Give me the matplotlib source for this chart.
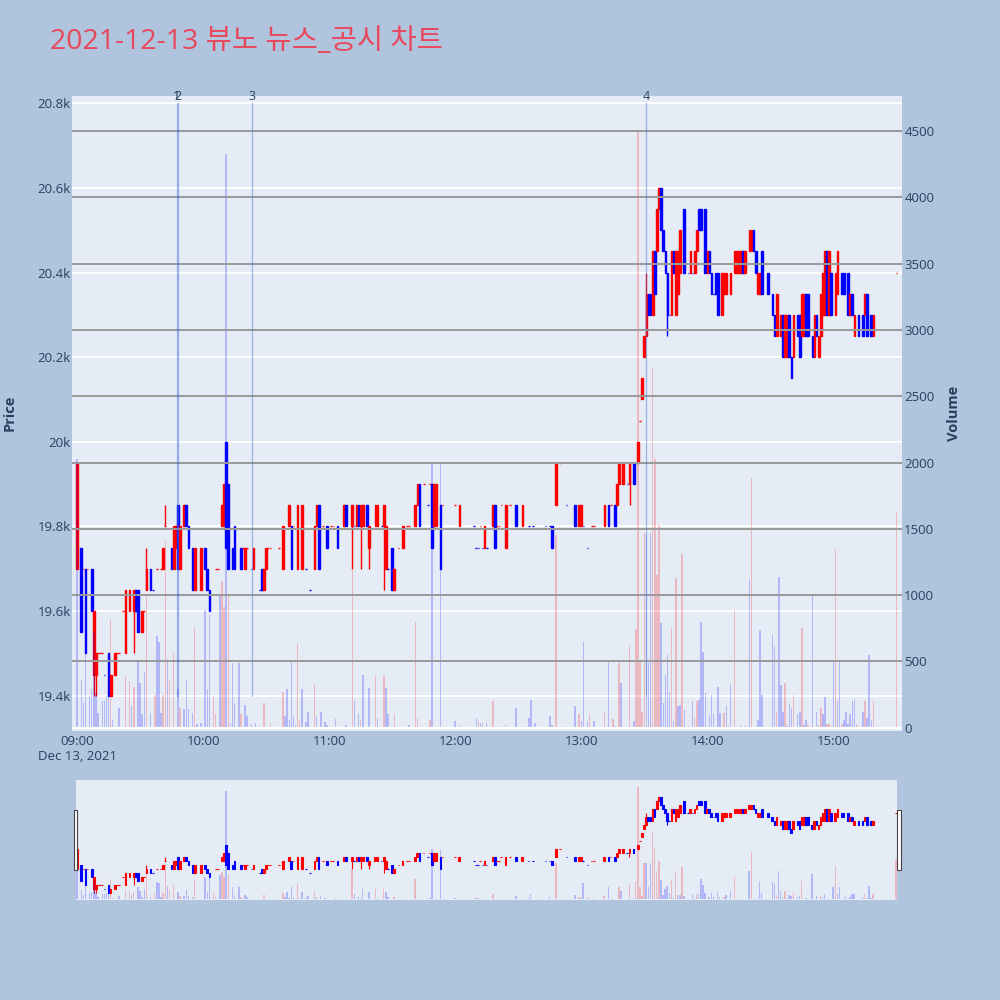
import matplotlib
matplotlib.use("Agg")
import matplotlib.pyplot as plt
from matplotlib.patches import Rectangle

plt.rcParams['font.family'] = ['Open Sans', 'Noto Sans CJK KR', 'DejaVu Sans']

TITLE = "2021-12-13 뷰노 뉴스_공시 차트"

# one candle per traded minute (minutes after 09:00), open and close in KRW
candle_min = [
    0, 2, 3, 4, 5, 7, 8, 9, 10, 11,
    12, 13, 15, 16, 18, 19, 20, 22, 23, 25,
    27, 28, 29, 31, 32, 33, 35, 36, 38, 40,
    41, 42, 45, 46, 47, 48, 49, 51, 52, 53,
    55, 56, 59, 61, 62, 63, 66, 67, 69, 70,
    71, 72, 74, 75, 78, 79, 80, 81, 83, 84,
    87, 88, 89, 90, 91, 92, 96, 98, 101, 102,
    103, 105, 107, 109, 111, 113, 114, 115, 117, 119,
    121, 122, 124, 127, 128, 131, 132, 133, 134, 135,
    136, 138, 139, 142, 143, 145, 146, 147, 148, 150,
    151, 153, 155, 157, 158, 161, 162, 163, 165, 167,
    168, 169, 170, 171, 173, 174, 180, 182, 189, 190,
    191, 192, 193, 194, 195, 198, 199, 200, 201, 202,
    204, 206, 209, 212, 215, 217, 223, 225, 226, 228,
    230, 233, 237, 239, 240, 241, 243, 245, 246, 251,
    253, 254, 256, 257, 258, 260, 262, 263, 265, 267,
    268, 269, 270, 271, 272, 273, 274, 275, 276, 277,
    278, 279, 280, 281, 282, 283, 284, 285, 286, 287,
    289, 291, 292, 293, 294, 295, 296, 297, 299, 300,
    301, 302, 303, 304, 305, 307, 308, 309, 311, 313,
    314, 315, 316, 317, 318, 320, 321, 322, 323, 324,
    325, 326, 329, 331, 332, 333, 335, 336, 337, 338,
    339, 340, 341, 343, 344, 345, 346, 347, 348, 350,
    351, 352, 353, 354, 355, 356, 357, 358, 359, 361,
    362, 364, 365, 367, 368, 369, 370, 372, 374, 375,
    376, 378, 379, 390,
]
candle_open = [
    19700, 19750, 19700, 19700, 19700, 19700, 19450, 19450, 19500, 19500,
    19500, 19450, 19500, 19400, 19450, 19500, 19500, 19600, 19500, 19600,
    19600, 19650, 19650, 19550, 19600, 19650, 19700, 19650, 19700, 19700,
    19700, 19800, 19750, 19700, 19750, 19850, 19700, 19800, 19850, 19800,
    19750, 19650, 19650, 19750, 19700, 19650, 19700, 19700, 19800, 19800,
    20000, 19900, 19750, 19800, 19750, 19750, 19700, 19750, 19700, 19700,
    19650, 19700, 19650, 19700, 19750, 19750, 19750, 19700, 19800, 19800,
    19800, 19700, 19700, 19700, 19650, 19700, 19800, 19850, 19800, 19800,
    19800, 19800, 19800, 19800, 19850, 19800, 19800, 19800, 19850, 19800,
    19800, 19850, 19750, 19800, 19800, 19800, 19800, 19700, 19700, 19750,
    19650, 19750, 19750, 19800, 19800, 19800, 19850, 19900, 19900, 19850,
    19900, 19900, 19800, 19800, 19850, 19850, 19850, 19800, 19800, 19750,
    19750, 19800, 19750, 19750, 19750, 19800, 19850, 19800, 19800, 19850,
    19750, 19850, 19850, 19800, 19800, 19800, 19800, 19800, 19800, 19850,
    19950, 19850, 19850, 19800, 19800, 19800, 19750, 19800, 19800, 19800,
    19850, 19850, 19850, 19850, 19900, 19900, 19900, 19900, 19950, 19950,
    20050, 20100, 20200, 20250, 20350, 20350, 20300, 20450, 20450, 20550,
    20600, 20500, 20450, 20400, 20300, 20300, 20450, 20300, 20350, 20400,
    20550, 20400, 20400, 20400, 20400, 20450, 20550, 20550, 20550, 20400,
    20450, 20400, 20350, 20400, 20400, 20300, 20350, 20350, 20350, 20400,
    20400, 20400, 20400, 20450, 20400, 20450, 20450, 20500, 20450, 20350,
    20350, 20450, 20400, 20350, 20300, 20250, 20250, 20300, 20200, 20200,
    20300, 20200, 20200, 20300, 20300, 20250, 20250, 20350, 20350, 20250,
    20200, 20300, 20200, 20250, 20300, 20300, 20450, 20300, 20400, 20300,
    20350, 20400, 20400, 20400, 20300, 20350, 20250, 20300, 20300, 20300,
    20350, 20300, 20250, 20400,
]
candle_close = [
    19950, 19550, 19700, 19500, 19700, 19600, 19600, 19500, 19500, 19500,
    19500, 19450, 19400, 19450, 19500, 19500, 19500, 19600, 19650, 19650,
    19650, 19600, 19550, 19600, 19600, 19700, 19650, 19650, 19700, 19700,
    19750, 19800, 19700, 19800, 19800, 19700, 19800, 19850, 19800, 19750,
    19650, 19750, 19750, 19700, 19650, 19600, 19700, 19700, 19850, 19900,
    19750, 19700, 19700, 19700, 19700, 19750, 19750, 19750, 19700, 19750,
    19650, 19650, 19700, 19750, 19750, 19750, 19750, 19800, 19850, 19700,
    19800, 19850, 19850, 19700, 19650, 19800, 19850, 19700, 19800, 19750,
    19800, 19800, 19750, 19850, 19800, 19850, 19800, 19850, 19800, 19850,
    19850, 19800, 19800, 19850, 19850, 19800, 19850, 19800, 19700, 19650,
    19700, 19750, 19800, 19800, 19800, 19850, 19900, 19800, 19900, 19850,
    19900, 19750, 19900, 19900, 19700, 19850, 19850, 19850, 19800, 19750,
    19750, 19800, 19750, 19800, 19750, 19850, 19750, 19800, 19800, 19850,
    19850, 19850, 19800, 19850, 19800, 19800, 19800, 19800, 19750, 19950,
    19950, 19850, 19800, 19850, 19850, 19800, 19750, 19800, 19800, 19850,
    19800, 19850, 19800, 19900, 19950, 19950, 19900, 19950, 19900, 20000,
    20050, 20150, 20250, 20350, 20300, 20300, 20450, 20350, 20550, 20600,
    20500, 20450, 20400, 20300, 20300, 20450, 20400, 20450, 20450, 20500,
    20400, 20400, 20450, 20400, 20450, 20500, 20500, 20500, 20400, 20450,
    20400, 20350, 20350, 20350, 20300, 20400, 20400, 20400, 20400, 20450,
    20450, 20450, 20450, 20400, 20450, 20500, 20500, 20450, 20400, 20400,
    20400, 20350, 20350, 20300, 20250, 20350, 20300, 20200, 20300, 20300,
    20200, 20150, 20300, 20250, 20200, 20350, 20350, 20250, 20250, 20200,
    20300, 20250, 20250, 20350, 20400, 20450, 20300, 20450, 20300, 20400,
    20450, 20350, 20350, 20300, 20350, 20300, 20300, 20250, 20250, 20350,
    20250, 20250, 20300, 20400,
]

# candles whose high/low sticks out past the body
wick_min = [8, 9, 27, 33, 42, 131, 135, 139, 146, 263, 271, 281]
wick_high = [19600, 19500, 19650, 19750, 19850, 19850, 19850, 19800, 19850, 19950, 20400, 20400]
wick_low = [19400, 19400, 19500, 19650, 19800, 19700, 19700, 19700, 19650, 19850, 20250, 20250]

# traded volume per minute, 'u' = up bar (red), 'd' = down bar (blue)
vol_min = [
    0, 2, 3, 4, 6, 7, 8, 9, 10, 12,
    13, 14, 15, 16, 17, 20, 23, 25, 26, 27,
    29, 30, 31, 32, 33, 35, 37, 38, 39, 40,
    41, 42, 43, 44, 46, 48, 49, 51, 52, 53,
    55, 56, 57, 59, 61, 62, 63, 65, 66, 68,
    69, 70, 71, 72, 73, 74, 75, 77, 78, 80,
    81, 83, 85, 89, 92, 98, 99, 100, 101, 102,
    103, 104, 105, 106, 107, 109, 110, 113, 114, 116,
    118, 119, 123, 128, 131, 132, 134, 135, 136, 139,
    142, 143, 146, 147, 148, 151, 158, 161, 162, 168,
    169, 173, 180, 182, 190, 191, 192, 193, 195, 198,
    200, 204, 209, 212, 215, 216, 218, 225, 226, 228,
    233, 237, 239, 240, 241, 243, 244, 246, 251, 253,
    255, 256, 258, 259, 263, 265, 266, 267, 268, 269,
    270, 271, 272, 273, 274, 275, 276, 277, 278, 279,
    280, 281, 282, 283, 284, 285, 286, 287, 288, 289,
    291, 293, 294, 295, 296, 297, 298, 299, 300, 301,
    302, 303, 305, 306, 307, 308, 309, 310, 311, 313,
    314, 316, 318, 320, 321, 322, 324, 325, 326, 328,
    329, 331, 332, 333, 334, 335, 336, 337, 338, 339,
    340, 341, 342, 343, 344, 345, 346, 347, 348, 349,
    350, 352, 353, 354, 355, 356, 357, 358, 359, 360,
    361, 362, 363, 364, 365, 366, 367, 368, 369, 370,
    371, 372, 374, 375, 376, 377, 378, 379, 390,
]
vol_val = [
    2030, 360, 190, 710, 240, 290, 720, 260, 110, 200,
    200, 240, 290, 810, 60, 150, 390, 350, 160, 310,
    510, 340, 100, 420, 1000, 110, 250, 690, 650, 110,
    250, 1410, 520, 360, 560, 290, 150, 140, 360, 140,
    110, 760, 25, 35, 890, 290, 850, 240, 100, 990,
    1110, 910, 4330, 990, 35, 490, 190, 490, 100, 175,
    90, 30, 35, 190, 35, 270, 90, 290, 60, 510,
    90, 20, 630, 60, 290, 40, 120, 330, 90, 120,
    40, 20, 65, 20, 1190, 200, 100, 60, 400, 300,
    400, 75, 400, 300, 100, 100, 20, 800, 75, 60,
    2000, 1990, 50, 20, 75, 50, 35, 35, 35, 200,
    10, 20, 150, 10, 75, 210, 35, 90, 20, 1450,
    10, 160, 100, 50, 650, 50, 100, 50, 120, 510,
    65, 10, 490, 340, 620, 50, 745, 4490, 510, 120,
    1470, 1450, 490, 1470, 2710, 2030, 1150, 1530, 790, 190,
    400, 550, 270, 760, 50, 1130, 160, 170, 1310, 135,
    10, 200, 75, 200, 210, 800, 570, 260, 5, 95,
    250, 100, 310, 110, 5, 110, 165, 10, 330, 890,
    5, 10, 10, 1120, 1880, 5, 55, 740, 250, 5,
    5, 700, 610, 120, 1140, 320, 115, 335, 10, 180,
    150, 250, 5, 100, 120, 750, 20, 60, 20, 10,
    1010, 120, 20, 150, 100, 230, 30, 30, 10, 500,
    1350, 200, 510, 30, 60, 120, 30, 100, 200, 220,
    30, 10, 115, 205, 70, 550, 60, 205, 1630,
]
vol_dir = list(
    "dddddddddd"
    "dddudduudu"
    "ddddududdd"
    "uuduududdd"
    "duddddduud"
    "uududdddud"
    "ddduuudddd"
    "dduudddudd"
    "dddduddudd"
    "ududduduuu"
    "dddddududu"
    "dddudddddu"
    "ddudddudud"
    "udududuuuu"
    "uddduuuudd"
    "dddududdud"
    "dduuddddud"
    "dddduudddu"
    "uddduddddd"
    "dddudddudd"
    "dudddudduu"
    "dduudduuud"
    "uddudddddd"
    "uududdduu"
)

# news / disclosure markers
news_min = [47.5, 48.2, 83.5, 271.0]
news_label = ["1", "2", "3", "4"]

price_ticks = [19400, 19600, 19800, 20000, 20200, 20400, 20600, 20800]
price_labels = ["19.4k", "19.6k", "19.8k", "20k", "20.2k", "20.4k", "20.6k", "20.8k"]
vol_ticks = [0, 500, 1000, 1500, 2000, 2500, 3000, 3500, 4000, 4500]
hour_ticks = [0, 60, 120, 180, 240, 300, 360]
hour_labels = ["09:00\nDec 13, 2021", "10:00", "11:00", "12:00", "13:00", "14:00", "15:00"]

BG = '#b0c4de'
PLOT_BG = '#e5ecf6'
TXT = '#2a3f5f'
UP = '#ff0000'
DOWN = '#0000ff'

# colour of each candle: close vs open, flat candles compared with previous close
dirs = []
prev_close, prev_dir = None, -1
for o, c in zip(candle_open, candle_close):
    if c != o:
        d = 1 if c > o else -1
    elif prev_close is not None and c != prev_close:
        d = 1 if c > prev_close else -1
    else:
        d = prev_dir
    dirs.append(d)
    prev_close, prev_dir = c, d
candle_col = [UP if d > 0 else DOWN for d in dirs]
wick_col = [candle_col[candle_min.index(m)] for m in wick_min]
vol_col = [(1, 0, 0, 0.22) if d == 'u' else (0, 0, 1, 0.22) for d in vol_dir]


def draw_candles(a, edge_lw, wick_lw):
    heights = [c - o for o, c in zip(candle_open, candle_close)]
    a.bar(candle_min, heights, bottom=candle_open, width=0.8, color=candle_col,
          edgecolor=candle_col, linewidth=edge_lw, zorder=3)
    a.vlines(wick_min, wick_low, wick_high, colors=wick_col, linewidth=wick_lw, zorder=3)


def clean(a):
    for s in a.spines.values():
        s.set_visible(False)


fig = plt.figure(figsize=(10, 10), dpi=100, facecolor=BG)

# main price chart
ax = fig.add_axes([0.072, 0.2695, 0.8295, 0.6345])
ax.set_facecolor(PLOT_BG)
clean(ax)
ax.set_axisbelow(True)
ax.grid(axis='y', color='white', linewidth=1.4)
draw_candles(ax, 1.0, 1.0)
ax.set_xlim(-2.4, 392.4)
ax.set_ylim(19318, 20817)
ax.set_yticks(price_ticks, price_labels)
ax.set_xticks(hour_ticks, hour_labels)
ax.tick_params(length=0, labelsize=9.5, labelcolor=TXT)
ax.tick_params(axis='y', pad=1)
ax.tick_params(axis='x', pad=3)

# volume on the right axis, drawn over the candles like the original
axv = ax.twinx()
clean(axv)
axv.bar(vol_min, vol_val, width=0.7, color=vol_col, zorder=2)
for v in vol_ticks[1:]:
    axv.axhline(v, color='#999999', linewidth=1.4, zorder=3)
axv.axhline(0, color='white', linewidth=1.6, zorder=3)
for m, lab in zip(news_min, news_label):
    axv.plot([m, m], [19400, 20800], transform=ax.transData,
             color=(0.255, 0.41, 0.88, 0.45), linewidth=0.9, zorder=5)
    axv.text(m, 20800, lab, transform=ax.transData, ha='center', va='bottom',
             fontsize=9, color=TXT, zorder=6)
axv.set_ylim(-21, 4764)
axv.set_xlim(-2.4, 392.4)
axv.set_yticks(vol_ticks, [str(v) for v in vol_ticks])
axv.tick_params(length=0, labelsize=9.5, labelcolor=TXT, pad=2)

# range slider
axs = fig.add_axes([0.076, 0.100, 0.821, 0.120])
axs.set_facecolor(PLOT_BG)
clean(axs)
draw_candles(axs, 0.8, 0.8)
axs.set_xlim(-0.5, 390.4)
axs.set_ylim(19318, 20817)
axs.set_xticks([])
axs.set_yticks([])
axsv = axs.twinx()
clean(axsv)
axsv.bar(vol_min, vol_val, width=0.7, color=vol_col, zorder=2)
axsv.set_ylim(-21, 4764)
axsv.set_xlim(-0.5, 390.4)
axsv.set_yticks([])

for hx in (0.0735, 0.897):
    fig.add_artist(Rectangle((hx, 0.130), 0.0038, 0.060, transform=fig.transFigure,
                             facecolor='white', edgecolor='#444444', linewidth=0.8, zorder=10))

fig.text(0.050, 0.958, TITLE, fontsize=20.5, color='#e8475c', ha='left', va='center')
fig.text(0.010, 0.587, 'Price', rotation=90, ha='center', va='center',
         fontsize=10.5, fontweight='bold', color=TXT)
fig.text(0.954, 0.587, 'Volume', rotation=90, ha='center', va='center',
         fontsize=10.5, fontweight='bold', color=TXT)

fig.savefig('out.png', dpi=100, facecolor=BG)
